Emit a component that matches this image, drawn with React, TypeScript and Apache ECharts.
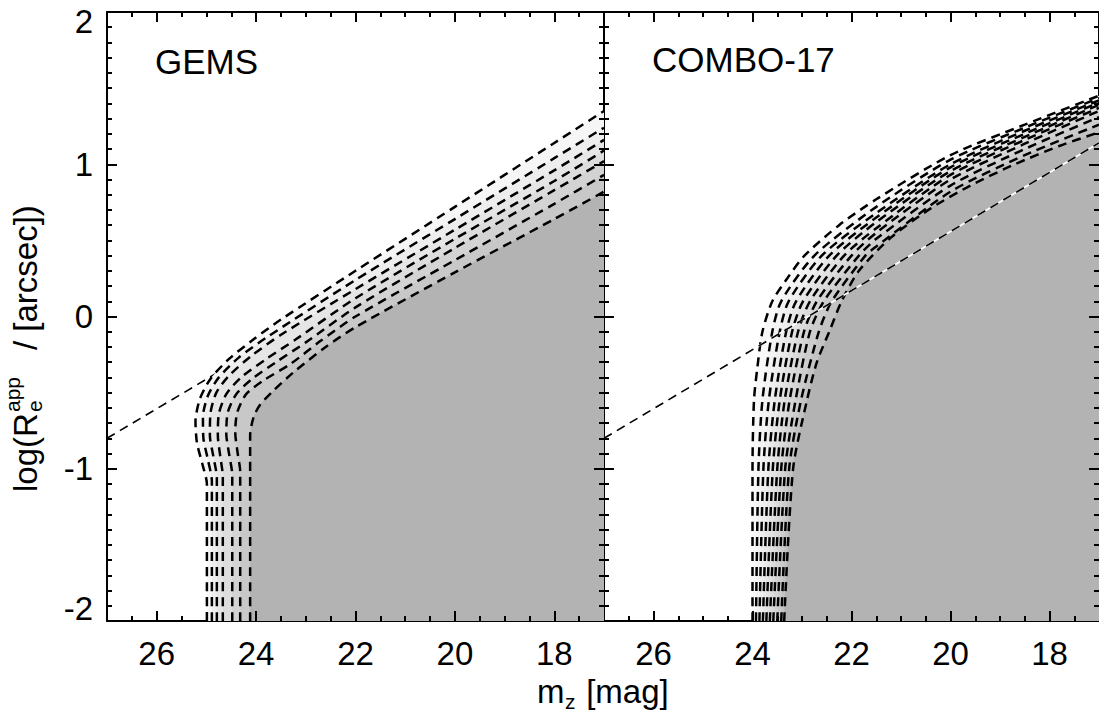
import React, { useEffect, useRef } from 'react';
import * as echarts from 'echarts';

// ---------- data ----------
const panelLabels = ['GEMS', 'COMBO-17'];
const xMajorTicks = [26, 24, 22, 20, 18];
const xMinorTicks = [26.5, 25.5, 25, 24.5, 23.5, 23, 22.5, 21.5, 21, 20.5, 19.5, 19, 18.5, 17.5];
const yMajorTicks = [-1, 0, 1];
const yMinorTicks = [
  -1.9, -1.8, -1.7, -1.6, -1.5, -1.4, -1.3, -1.2, -1.1,
  -0.9, -0.8, -0.7, -0.6, -0.5, -0.4, -0.3, -0.2, -0.1,
  0.1, 0.2, 0.3, 0.4, 0.5, 0.6, 0.7, 0.8, 0.9,
  1.1, 1.2, 1.3, 1.4, 1.5, 1.6, 1.7, 1.8, 1.9,
];

// surface-brightness limit line [m_z, log Re]
const sbLimit = [[27, -0.8], [17, 1.14]];

// GEMS completeness curves, outermost -> innermost
const gems0 = [[24.99, -2], [24.99, -1.1], [25.08, -0.97], [25.19, -0.83], [25.22, -0.69], [25.13, -0.54], [24.92, -0.41], [24.55, -0.28], [24.05, -0.15], [23.5, -0.02], [22, 0.3], [20, 0.72], [18, 1.14], [17, 1.35]];
const gems1 = [[24.89, -2], [24.89, -1.08], [24.97, -0.94], [25.06, -0.8], [25.07, -0.66], [24.97, -0.52], [24.75, -0.4], [24.35, -0.27], [23.8, -0.14], [22, 0.24], [20, 0.64], [18, 1.04], [17, 1.24]];
const gems2 = [[24.79, -2], [24.79, -1.06], [24.86, -0.92], [24.93, -0.78], [24.92, -0.64], [24.8, -0.5], [24.55, -0.39], [24.1, -0.26], [23.5, -0.12], [22, 0.18], [20, 0.57], [18, 0.96], [17, 1.16]];
const gems3 = [[24.67, -2], [24.67, -1.05], [24.72, -0.92], [24.77, -0.78], [24.75, -0.64], [24.6, -0.51], [24.3, -0.4], [23.8, -0.28], [23.2, -0.15], [22, 0.12], [20, 0.51], [18, 0.89], [17, 1.09]];
const gems4 = [[24.48, -2], [24.48, -1.04], [24.54, -0.91], [24.6, -0.77], [24.57, -0.63], [24.4, -0.51], [24.08, -0.41], [23.6, -0.3], [23, -0.17], [22, 0.06], [20, 0.45], [18, 0.83], [17, 1.02]];
const gems5 = [[24.32, -2], [24.32, -1.02], [24.37, -0.9], [24.42, -0.76], [24.38, -0.63], [24.2, -0.51], [23.85, -0.42], [23.3, -0.31], [22.7, -0.16], [22, 0.0], [20, 0.37], [18, 0.74], [17, 0.93]];
const gems6 = [[24.12, -2], [24.12, -0.78], [24.05, -0.66], [23.92, -0.58], [23.66, -0.49], [23.26, -0.37], [22.6, -0.2], [22, -0.07], [20, 0.29], [18, 0.64], [17, 0.82]];
const gemsCurves = [gems0, gems1, gems2, gems3, gems4, gems5, gems6];
const gemsFills = ['#f6f6f6', '#eeeeee', '#e6e6e6', '#dddddd', '#d3d3d3', '#c8c8c8', '#b3b3b3'];

// COMBO-17 completeness curves, outermost -> innermost
const combo0 = [[24.0, -2], [24.0, -1.0], [23.97, -0.55], [23.9, -0.33], [23.8, -0.1], [23.6, 0.1], [23.3, 0.25], [22.95, 0.4], [22.25, 0.6], [21.5, 0.77], [20, 1.06], [18.5, 1.26], [17, 1.45]];
const combo1 = [[23.93, -2], [23.88, -1.0], [23.8, -0.55], [23.6, -0.1], [23.42, 0.1], [22.75, 0.4], [21.5, 0.72], [20, 1.03], [18.5, 1.24], [17, 1.435]];
const combo2 = [[23.86, -2], [23.78, -1.0], [23.67, -0.55], [23.45, -0.1], [23.27, 0.1], [22.6, 0.4], [21.5, 0.68], [20, 1.0], [18.5, 1.22], [17, 1.42]];
const combo3 = [[23.79, -2], [23.68, -1.0], [23.55, -0.55], [23.32, -0.1], [23.12, 0.1], [22.45, 0.4], [21.5, 0.65], [20, 0.98], [18.5, 1.2], [17, 1.405]];
const combo4 = [[23.72, -2], [23.59, -1.0], [23.45, -0.55], [23.2, -0.1], [22.98, 0.1], [22.3, 0.4], [21.5, 0.62], [20, 0.955], [18.5, 1.18], [17, 1.39]];
const combo5 = [[23.65, -2], [23.5, -1.0], [23.35, -0.55], [23.08, -0.1], [22.84, 0.1], [22.15, 0.4], [21.5, 0.58], [20, 0.93], [18.5, 1.16], [17, 1.37]];
const combo6 = [[23.58, -2], [23.42, -1.0], [23.25, -0.55], [22.96, -0.1], [22.7, 0.1], [22.0, 0.4], [21.5, 0.55], [20, 0.9], [18.5, 1.135], [17, 1.35]];
const combo7 = [[23.5, -2], [23.34, -1.0], [23.13, -0.55], [22.84, -0.1], [22.56, 0.1], [21.85, 0.4], [21.5, 0.51], [20, 0.86], [18.5, 1.1], [17, 1.31]];
const combo8 = [[23.42, -2], [23.26, -1.0], [23.02, -0.55], [22.66, -0.1], [22.4, 0.1], [21.72, 0.4], [21.5, 0.46], [20, 0.82], [18.5, 1.06], [17, 1.26]];
const combo9 = [[23.36, -2], [23.18, -1.0], [22.9, -0.55], [22.7, -0.3], [22.45, -0.1], [22.2, 0.1], [21.85, 0.3], [21.2, 0.52], [20.4, 0.71], [19.6, 0.86], [18.7, 1.0], [17.8, 1.12], [17, 1.21]];
const comboCurves = [combo0, combo1, combo2, combo3, combo4, combo5, combo6, combo7, combo8, combo9];
const comboFills = ['#f8f8f8', '#f3f3f3', '#eeeeee', '#e8e8e8', '#e2e2e2', '#dbdbdb', '#d4d4d4', '#cccccc', '#c3c3c3', '#b3b3b3'];

// ---------- styling ----------
const FONT = '"Liberation Sans", Arial, Helvetica, sans-serif';
const BLACK = '#000';
const SMOOTH = 0.25;
const X_MIN = 17;
const X_MAX = 27;
const Y_MIN = -2;
const Y_MAX = 2;
const GRID_W = 497;
const GRID_H = 609;
const MAJOR_PX = 10;
const MINOR_PX = 5;
// tick lengths expressed in axis units for each direction
const X_UNIT_PX = GRID_W / (X_MAX - X_MIN);
const Y_UNIT_PX = GRID_H / (Y_MAX - Y_MIN);

function xAxis(gridIndex: number, position: 'top' | 'bottom', showLabels: boolean) {
  return {
    type: 'value' as const,
    gridIndex,
    position,
    min: X_MIN,
    max: X_MAX,
    inverse: true,
    splitLine: { show: false },
    axisLine: { show: true, onZero: false, lineStyle: { color: BLACK, width: 2 } },
    axisTick: { show: false },
    axisLabel: {
      show: showLabels,
      customValues: xMajorTicks,
      fontSize: 33,
      fontFamily: FONT,
      color: BLACK,
      margin: 16,
    },
  };
}

function yAxis(gridIndex: number, position: 'left' | 'right', showLabels: boolean) {
  return {
    type: 'value' as const,
    gridIndex,
    position,
    min: Y_MIN,
    max: Y_MAX,
    interval: 1,
    splitLine: { show: false },
    axisLine: { show: true, onZero: false, lineStyle: { color: BLACK, width: 2 } },
    axisTick: { show: false },
    minorTick: { show: false },
    axisLabel: {
      show: showLabels,
      fontSize: 33,
      fontFamily: FONT,
      color: BLACK,
      margin: 14,
      formatter: (v: number) => (v === 2 ? '{t|2}' : v === -2 ? '{b|-2}' : String(v)),
      rich: {
        t: { fontSize: 33, fontFamily: FONT, color: BLACK, padding: [18, 0, 0, 0] },
        b: { fontSize: 33, fontFamily: FONT, color: BLACK, padding: [0, 0, 25, 0] },
      },
    },
  };
}

function fillSeries(data: number[][], color: string, xi: number, yi: number) {
  return {
    type: 'line',
    xAxisIndex: xi,
    yAxisIndex: yi,
    data,
    smooth: SMOOTH,
    symbol: 'none',
    showSymbol: false,
    silent: true,
    z: 2,
    lineStyle: { width: 0, opacity: 0 },
    areaStyle: { color, opacity: 1, origin: 'start' },
  };
}

function dashSeries(data: number[][], xi: number, yi: number, z: number, width: number, color = BLACK, type: any = [9, 6], smooth = SMOOTH) {
  return {
    type: 'line',
    xAxisIndex: xi,
    yAxisIndex: yi,
    data,
    smooth,
    symbol: 'none',
    showSymbol: false,
    silent: true,
    z,
    lineStyle: { color, width, type },
  };
}

// inward frame ticks as a 'lines' series in the panel's own data coordinates
function tickSeries(xi: number, yi: number) {
  const segs: any[] = [];
  const xt = [...xMajorTicks.map((v) => [v, MAJOR_PX]), ...xMinorTicks.map((v) => [v, MINOR_PX])];
  const yt = [...yMajorTicks.map((v) => [v, MAJOR_PX]), ...yMinorTicks.map((v) => [v, MINOR_PX])];
  xt.forEach(([v, px]) => {
    const d = px / Y_UNIT_PX;
    segs.push({ coords: [[v, Y_MIN], [v, Y_MIN + d]] });
    segs.push({ coords: [[v, Y_MAX], [v, Y_MAX - d]] });
  });
  yt.forEach(([v, px]) => {
    const d = px / X_UNIT_PX;
    segs.push({ coords: [[X_MAX, v], [X_MAX - d, v]] });
    segs.push({ coords: [[X_MIN, v], [X_MIN + d, v]] });
  });
  return {
    type: 'lines',
    coordinateSystem: 'cartesian2d',
    xAxisIndex: xi,
    yAxisIndex: yi,
    polyline: false,
    silent: true,
    z: 20,
    clip: false,
    lineStyle: { color: BLACK, width: 2, opacity: 1, curveness: 0, type: 'solid' },
    data: segs,
  };
}

const t33 = { fontSize: 33, fontFamily: FONT, fill: BLACK, verticalAlign: 'middle', align: 'left' };
const t21 = { fontSize: 21, fontFamily: FONT, fill: BLACK, verticalAlign: 'middle', align: 'left' };

function buildOption() {
  const series: any[] = [];
  // left panel (GEMS): sb limit drawn below the shading
  series.push(dashSeries(sbLimit, 0, 0, 1, 1.6, BLACK, [9, 6], 0));
  gemsCurves.forEach((c, i) => series.push(fillSeries(c, gemsFills[i], 0, 0)));
  gemsCurves.forEach((c) => series.push(dashSeries(c, 0, 0, 3, 2.5)));
  series.push(tickSeries(0, 0));
  // right panel (COMBO-17)
  comboCurves.forEach((c, i) => series.push(fillSeries(c, comboFills[i], 2, 2)));
  comboCurves.forEach((c) => series.push(dashSeries(c, 2, 2, 3, 2.5)));
  series.push(dashSeries(sbLimit, 2, 2, 4, 1.8, '#fff', 'solid', 0));
  series.push(dashSeries(sbLimit, 2, 2, 5, 1.6, BLACK, [9, 6], 0));
  series.push(tickSeries(2, 2));

  return {
    animation: false,
    grid: [
      { left: 107, top: 12, width: GRID_W, height: GRID_H },
      { left: 604, top: 12, width: GRID_W, height: GRID_H },
    ],
    xAxis: [xAxis(0, 'bottom', true), xAxis(0, 'top', false), xAxis(1, 'bottom', true), xAxis(1, 'top', false)],
    yAxis: [yAxis(0, 'left', true), yAxis(0, 'right', false), yAxis(1, 'left', false), yAxis(1, 'right', false)],
    series,
    graphic: [
      { type: 'text', left: 155, top: 44, z: 30, style: { text: panelLabels[0], fontSize: 35, fontFamily: FONT, fill: BLACK } },
      { type: 'text', left: 652, top: 42, z: 30, style: { text: panelLabels[1], fontSize: 35, fontFamily: FONT, fill: BLACK } },
      {
        type: 'group',
        x: 0,
        y: 0,
        z: 30,
        children: [
          { type: 'text', x: 537, y: 691, style: { ...t33, text: 'm' } },
          { type: 'text', x: 565, y: 701, style: { ...t21, text: 'z' } },
          { type: 'text', x: 577, y: 691, style: { ...t33, text: ' [mag]' } },
        ],
      },
      {
        type: 'group',
        x: 25.5,
        y: 492,
        rotation: Math.PI / 2,
        z: 30,
        children: [
          { type: 'text', x: 0, y: 0, style: { ...t33, text: 'log(R' } },
          { type: 'text', x: 80, y: 9, style: { ...t21, text: 'e' } },
          { type: 'text', x: 80, y: -13, style: { ...t21, text: 'app' } },
          { type: 'text', x: 142, y: 0, style: { ...t33, text: '/ [arcsec])' } },
        ],
      },
    ],
  };
}

export default function App() {
  const ref = useRef<HTMLDivElement>(null);
  useEffect(() => {
    if (!ref.current) return;
    const chart = echarts.init(ref.current, undefined, { renderer: 'svg' });
    chart.setOption(buildOption() as any);
    return () => chart.dispose();
  }, []);
  return (
    <div
      ref={ref}
      style={{ position: 'absolute', left: 0, top: 0, width: 1099, height: 713, background: '#fff' }}
    />
  );
}
